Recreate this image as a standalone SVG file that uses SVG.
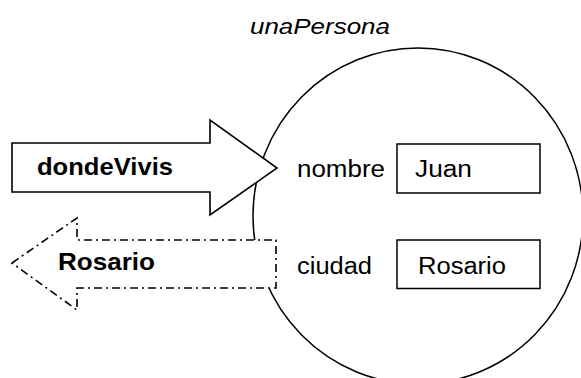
<svg xmlns="http://www.w3.org/2000/svg" width="581" height="378" viewBox="0 0 581 378">
<style>
  text { font-family: "Liberation Sans", Arial, sans-serif; fill: #000; }
  .lbl { font-size: 23.5px; }
  .bold { font-size: 24.5px; font-weight: bold; }
  .title { font-size: 22px; font-style: italic; }
  .line { fill: none; stroke: #000; stroke-width: 1.5; }
  .box { fill: #fff; stroke: #000; stroke-width: 1.5; }
  .arrow { fill: #fff; stroke: #000; stroke-width: 1.6; stroke-linejoin: miter; }
  .dash { stroke-dasharray: 8 4 2 4; }
</style>
<rect width="581" height="378" fill="#fff"/>
<g id="unaPersona">
  <ellipse class="line" cx="418" cy="216" rx="165" ry="168"/>
  <text class="title" x="250" y="34" textLength="140" lengthAdjust="spacingAndGlyphs">unaPersona</text>
</g>
<g id="nombre">
  <text class="lbl" x="297" y="177" textLength="88" lengthAdjust="spacingAndGlyphs">nombre</text>
  <rect class="box" x="397" y="144" width="143" height="49"/>
  <text class="lbl" x="415" y="177" textLength="57" lengthAdjust="spacingAndGlyphs">Juan</text>
</g>
<g id="ciudad">
  <text class="lbl" x="297" y="274" textLength="75" lengthAdjust="spacingAndGlyphs">ciudad</text>
  <rect class="box" x="397" y="240" width="143" height="48.5"/>
  <text class="lbl" x="418" y="274" textLength="88" lengthAdjust="spacingAndGlyphs">Rosario</text>
</g>
<g id="connectors">
  <g id="msg-dondeVivis">
    <polygon class="arrow" points="12,143 210,143 210,120 277,168 210,215 210,192 12,192"/>
    <text class="bold" x="37" y="175" textLength="136" lengthAdjust="spacingAndGlyphs">dondeVivis</text>
  </g>
  <g id="ret-Rosario">
    <polygon class="arrow dash" points="12,263 77,218 77,240 276,240 276,288 77,288 77,310"/>
    <text class="bold" x="58" y="270" textLength="97" lengthAdjust="spacingAndGlyphs">Rosario</text>
  </g>
</g>
</svg>
